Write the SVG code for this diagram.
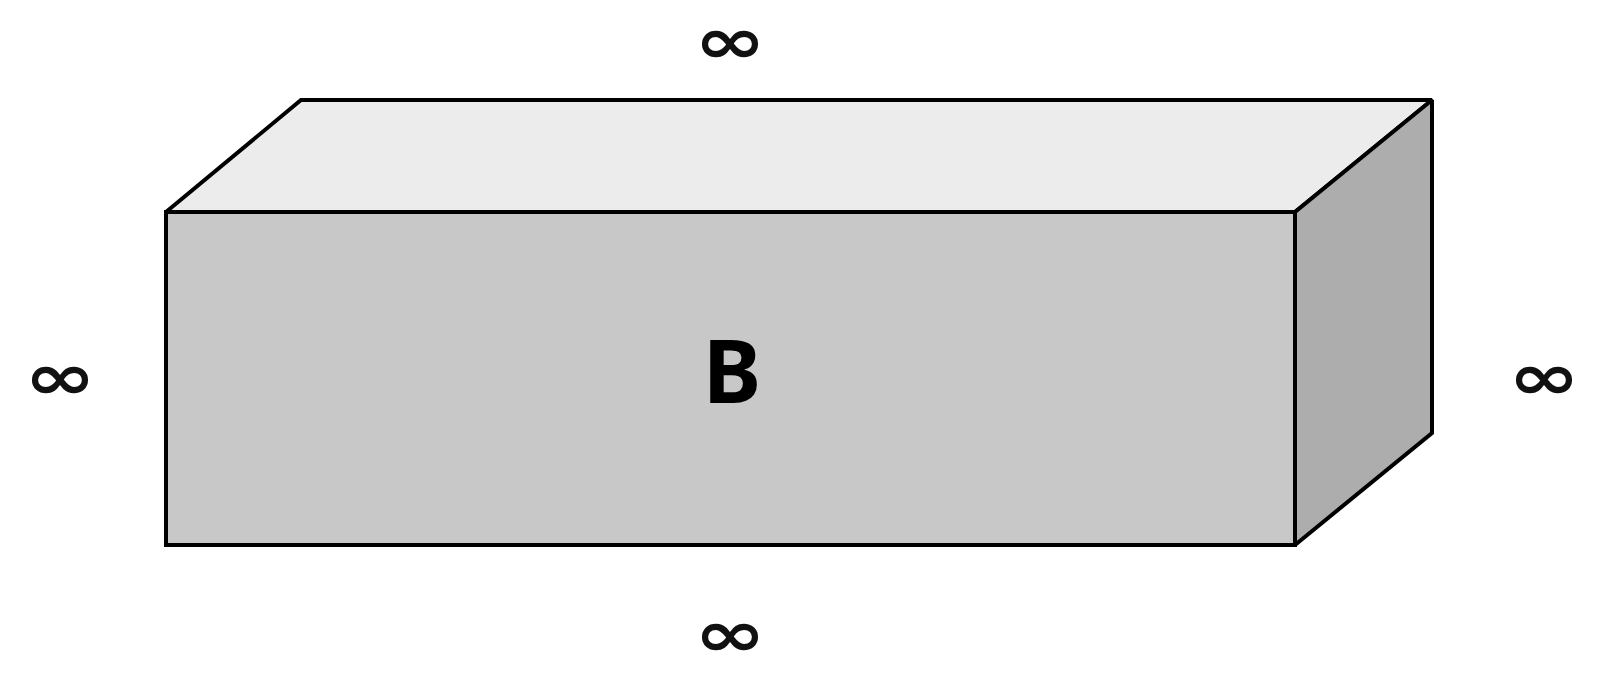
<svg xmlns="http://www.w3.org/2000/svg" width="1602" height="682" viewBox="0 0 1602 682">
<style>
.face{stroke:#000;stroke-width:4;stroke-linejoin:miter;stroke-miterlimit:2}
.inf{font-family:"DejaVu Sans",sans-serif;font-size:64px;font-weight:bold;fill:#111;text-anchor:middle}
.lbl{font-family:"Noto Sans",sans-serif;font-size:88px;font-weight:bold;fill:#000;text-anchor:middle}
</style>
<rect width="1602" height="682" fill="#fff"/>
<g id="box">
<polygon class="face" fill="#ececec" points="166,212 301,100 1432,100 1295,212"/>
<polygon class="face" fill="#adadad" points="1295,212 1432,100 1432,433 1295,545"/>
<rect class="face" fill="#c8c8c8" x="166" y="212" width="1129" height="333"/>
<text class="lbl" x="732" y="403">B</text>
</g>
<g id="labels">
<text class="inf" transform="translate(730,63) scale(1.35,1)">∞</text>
<text class="inf" transform="translate(60,399) scale(1.35,1)">∞</text>
<text class="inf" transform="translate(1544,399) scale(1.35,1)">∞</text>
<text class="inf" transform="translate(730,656) scale(1.35,1)">∞</text>
</g>
</svg>
